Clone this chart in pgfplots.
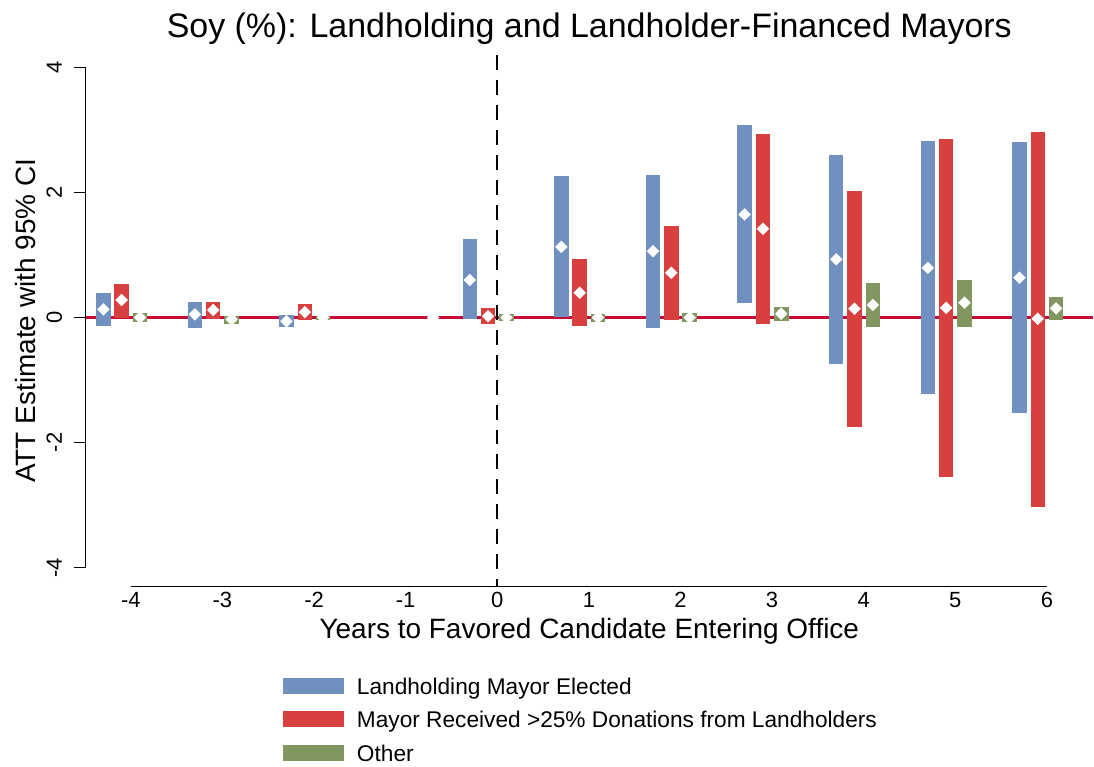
\documentclass[border=0pt]{standalone}
\usepackage{fontspec}
\setmainfont{Liberation Sans}
\usepackage{pgfplots}
\pgfplotsset{compat=1.18}
\usepackage{pgfplotstable}
\usetikzlibrary{calc}
\definecolor{blueS}{RGB}{112,144,192}
\definecolor{redS}{RGB}{216,64,64}
\definecolor{greenS}{RGB}{128,152,96}
\definecolor{zeroS}{RGB}{200,12,56}

\pgfplotstableread{
x m lo hi
-4.3 0.13 -0.14 0.40
-3.3 0.05 -0.165 0.25
-2.3 -0.06 -0.15 0.04
-0.3 0.60 -0.03 1.25
0.7 1.13 0.01 2.26
1.7 1.06 -0.165 2.28
2.7 1.65 0.225 3.08
3.7 0.93 -0.74 2.60
4.7 0.795 -1.23 2.82
5.7 0.635 -1.53 2.80
}\blueT
\pgfplotstableread{
x m lo hi
-4.1 0.28 0.0 0.54
-3.1 0.12 -0.03 0.25
-2.1 0.085 -0.04 0.22
-0.1 0.02 -0.10 0.155
0.9 0.395 -0.13 0.93
1.9 0.715 -0.04 1.46
2.9 1.42 -0.11 2.94
3.9 0.14 -1.75 2.02
4.9 0.155 -2.55 2.86
5.9 -0.02 -3.03 2.965
}\redT
\pgfplotstableread{
x m lo hi
-3.9 0.0 -0.075 0.07
-2.9 -0.03 -0.10 0.03
-1.9 0.0 -0.04 0.02
0.1 0.0 -0.06 0.06
1.1 0.0 -0.07 0.06
2.1 0.0 -0.065 0.065
3.1 0.06 -0.05 0.17
4.1 0.20 -0.155 0.555
5.1 0.235 -0.144 0.60
6.1 0.145 -0.04 0.325
}\greenT

\begin{document}
\begin{tikzpicture}
\begin{axis}[
  scale only axis, width=1008pt, height=532pt,
  xmin=-4.49, xmax=6.5, ymin=-4.3, ymax=4.2,
  clip=false,
  axis line style={draw=none},
  xtick={-4,-3,-2,-1,0,1,2,3,4,5,6},
  ytick={-4,-2,0,2,4},
  xtick pos=left, ytick pos=left,
  tick align=outside, major tick length=12pt,
  xtick style={draw=none},
  ytick style={line width=1.2pt, black},
  /pgf/number format/assume math mode=true,
  ticklabel style={font=\fontsize{22}{26}\selectfont},
  yticklabel style={rotate=90, anchor=base, inner sep=0pt},
  yticklabel shift=12pt,
  xticklabel style={anchor=base, inner sep=0pt},
  xticklabel shift=9pt,
  title={Soy (\%): Landholding and Landholder-Financed Mayors},
  title style={font=\fontsize{34}{40}\selectfont, at={(axis description cs:0.5,1)}, anchor=base, yshift=11.5pt, inner sep=0pt},
  xlabel={Years to Favored Candidate Entering Office},
  xlabel style={font=\fontsize{28}{32}\selectfont, at={(axis description cs:0.5,0)}, anchor=base, yshift=-52pt, inner sep=0pt},
  ylabel={ATT Estimate with 95\% CI},
  ylabel style={font=\fontsize{28}{32}\selectfont, at={($(axis description cs:0,0.5)+(-50pt,0pt)$)}, anchor=base, inner sep=0pt},
  legend style={draw=none, fill=none, at={(axis description cs:0.1954,-0.1709)}, anchor=north west,
    inner sep=0pt, outer sep=0pt, row sep=11.5pt,
    nodes={inner sep=0pt, text height=17pt, text depth=5pt, font=\fontsize{22.7}{26}\selectfont}},
  legend cell align=left,
]
\addlegendimage{legend image code/.code={\fill[blueS] (0pt,-5pt) rectangle (60pt,10pt); \path (74pt,0pt);}}
\addlegendentry{Landholding Mayor Elected}
\addlegendimage{legend image code/.code={\fill[redS] (0pt,-5pt) rectangle (60pt,10pt); \path (74pt,0pt);}}
\addlegendentry{Mayor Received >25\% Donations from Landholders}
\addlegendimage{legend image code/.code={\fill[greenS] (0pt,-5pt) rectangle (60pt,10pt); \path (74pt,0pt);}}
\addlegendentry{Other}

\addplot[forget plot, black, line width=1.2pt] coordinates {(-4,-4.3) (6,-4.3)};
\addplot[forget plot, black, line width=1.2pt] coordinates {(-4.49,-4) (-4.49,4)};

\addplot[forget plot, zeroS, line width=2.5pt] coordinates {(-4.49,0) (6.5,0)};
\addplot[forget plot, black, line width=1.8pt, dash pattern=on 15pt off 10pt] coordinates {(0,4.2) (0,-4.3)};

\addplot[forget plot, only marks, mark=none, error bars/.cd, y dir=both, y explicit, error mark=none,
  error bar style={draw=blueS, line width=14.5pt}]
  table[x=x, y=m, y error plus expr=\thisrow{hi}-\thisrow{m}, y error minus expr=\thisrow{m}-\thisrow{lo}] {\blueT};
\addplot[forget plot, only marks, mark=none, error bars/.cd, y dir=both, y explicit, error mark=none,
  error bar style={draw=redS, line width=14.5pt}]
  table[x=x, y=m, y error plus expr=\thisrow{hi}-\thisrow{m}, y error minus expr=\thisrow{m}-\thisrow{lo}] {\redT};
\addplot[forget plot, only marks, mark=none, error bars/.cd, y dir=both, y explicit, error mark=none,
  error bar style={draw=greenS, line width=14.5pt}]
  table[x=x, y=m, y error plus expr=\thisrow{hi}-\thisrow{m}, y error minus expr=\thisrow{m}-\thisrow{lo}] {\greenT};

\addplot[forget plot, only marks, mark=square*, mark size=4.3pt, mark options={rotate=45, fill=white, draw=white, line width=0.1pt}] table[x=x,y=m] {\blueT};
\addplot[forget plot, only marks, mark=square*, mark size=4.3pt, mark options={rotate=45, fill=white, draw=white, line width=0.1pt}] table[x=x,y=m] {\redT};
\addplot[forget plot, only marks, mark=square*, mark size=4.3pt, mark options={rotate=45, fill=white, draw=white, line width=0.1pt}] table[x=x,y=m] {\greenT};
\addplot[forget plot, only marks, mark=square*, mark size=4.3pt, mark options={rotate=45, fill=white, draw=white, line width=0.1pt}] coordinates {(-0.7,0)};
\end{axis}
\path (current axis.south west) ++(-86pt,-179pt) rectangle +(1094pt,766pt);
\end{tikzpicture}
\end{document}
